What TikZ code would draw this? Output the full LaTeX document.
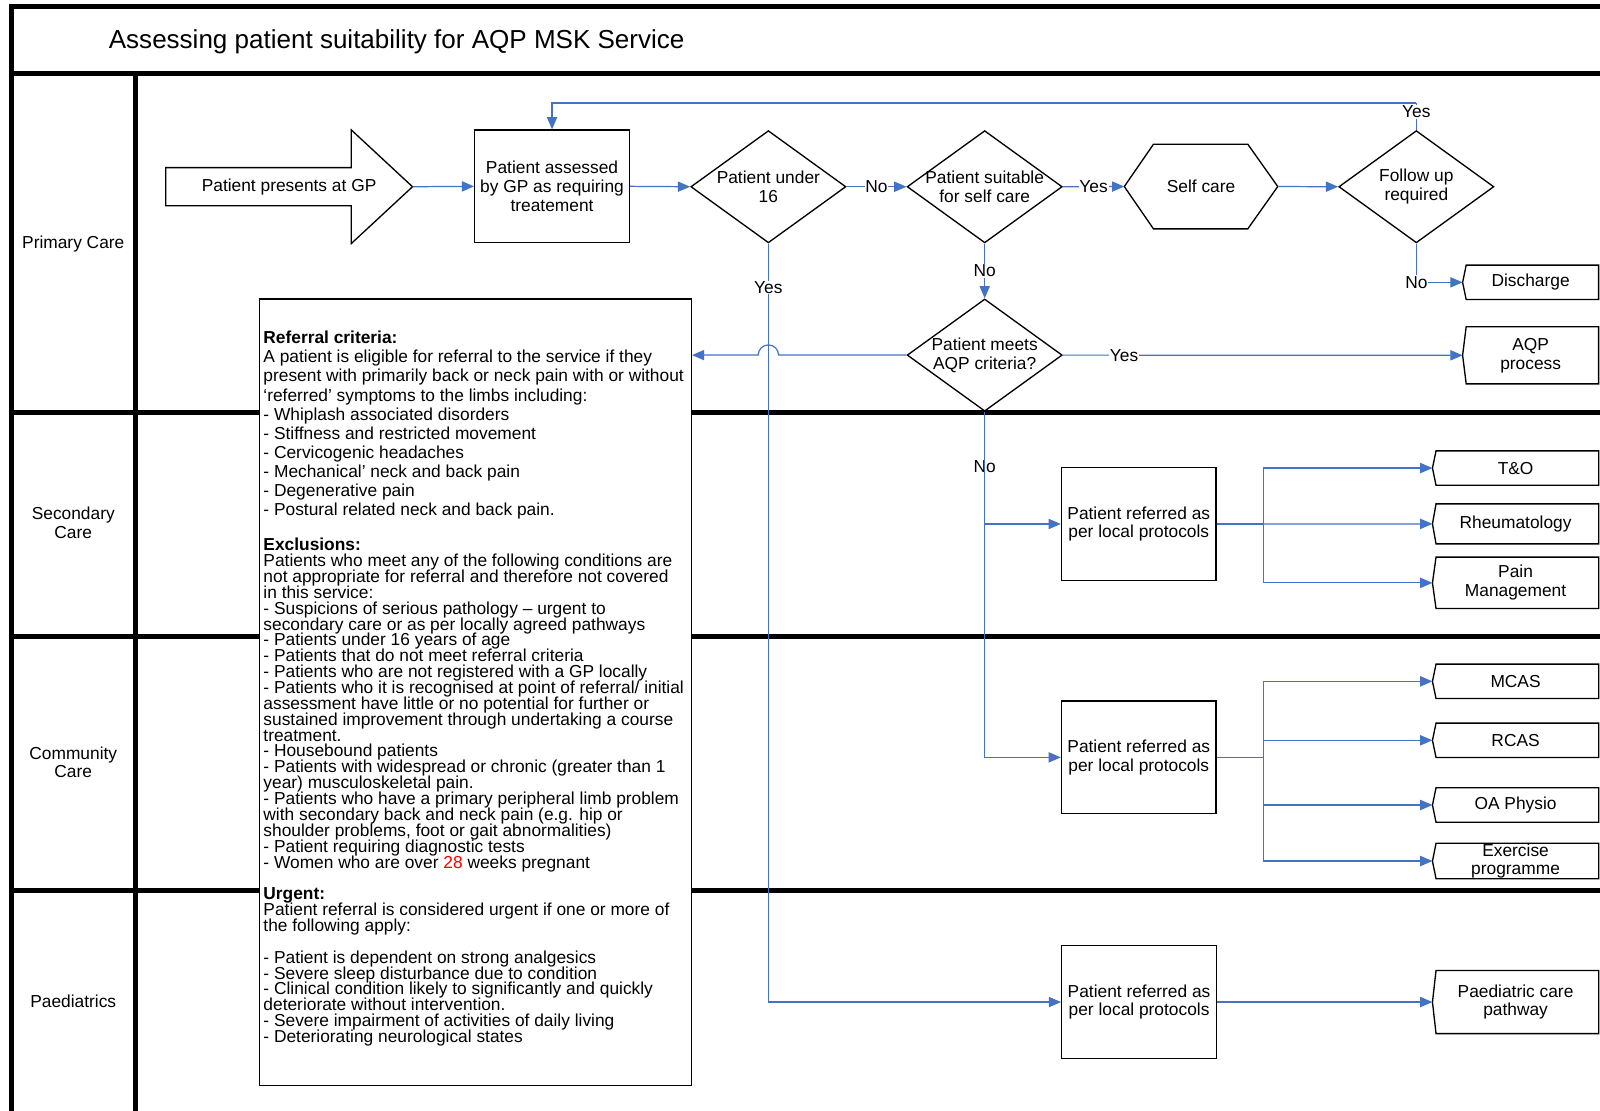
\documentclass[tikz,border=0pt]{standalone}
\usepackage{fontspec}
\setmainfont{Liberation Sans}
\usetikzlibrary{shapes.geometric,arrows.meta,calc}
\definecolor{conblue}{RGB}{68,114,196}
\newcommand{\offpagepath}[1]{\draw[outl] ([xshift=3.5pt]#1.north west) -- (#1.west) -- ([xshift=3.5pt]#1.south west) -- (#1.south east) -- (#1.north east) -- cycle;}
\begin{document}
\begin{tikzpicture}[x=1pt,y=-1pt,
  every node/.style={font=\fontsize{17}{18.5}\selectfont, inner sep=0pt, align=center},
  lane/.style={line width=4.6pt, black},
  shapeline/.style={draw=black, line width=1.3pt, fill=white},
  outl/.style={draw=black, line width=1.3pt},
  box/.style={shapeline, rectangle, minimum width=151.5pt, minimum height=110.4pt},
  dia/.style={shapeline, diamond, aspect=1.38, inner sep=-6pt, minimum width=152pt, minimum height=110pt},
  conn/.style={draw=conblue, line width=1.2pt, -{Triangle[length=12pt,width=10pt]}},
  link/.style={draw=conblue, line width=1.2pt},
  lbl/.style={fill=white, inner sep=0.8pt},
  tgt/.style={rectangle, minimum width=162.5pt},
]
\useasboundingbox (0,0) rectangle (1568,1088);
\clip (0,0) rectangle (1568,1088);

% swimlane frame
\draw[lane] (9.2,6.5) -- (1600,6.5);
\draw[lane] (11.5,4.2) -- (11.5,1100);
\draw[lane] (9.2,72) -- (1600,72);
\draw[lane] (133,72) -- (133,1100);
\draw[lane] (9.2,404) -- (1600,404);
\draw[lane] (9.2,624) -- (1600,624);
\draw[lane] (9.2,872.5) -- (1600,872.5);

\node[anchor=base west, font=\fontsize{25.5}{30}\selectfont] (title) at (106.5,47.4) {Assessing patient suitability for AQP MSK Service};

\node (lp) at (71.8,239) {Primary Care};
\node (ls) at (71.8,512.5) {Secondary\\Care};
\node (lc) at (71.8,747) {Community\\Care};
\node (lpa) at (71.8,981.5) {Paediatrics};

% referral criteria box
\node[shapeline, rectangle, minimum width=423.5pt, minimum height=771pt] (refbox) at (465.75,678.5) {};
\node[anchor=base west] (reftext) at (258,337) {\parbox[t]{440pt}{\raggedright\lineskiplimit=-50pt\lineskip=0pt
\fontsize{17}{18.67}\selectfont
\textbf{Referral criteria:}\\
A patient is eligible for referral to the service if they\\
present with primarily back or neck pain with or without\\
‘referred’ symptoms to the limbs including:\\
- Whiplash associated disorders\\
- Stiffness and restricted movement\\
- Cervicogenic headaches\\
- Mechanical’ neck and back pain\\
- Degenerative pain\\
- Postural related neck and back pain.\par
\vspace{19.1pt}
\fontsize{17}{15.55}\selectfont
\textbf{Exclusions:}\\
Patients who meet any of the following conditions are\\
not appropriate for referral and therefore not covered\\
in this service:\\
- Suspicions of serious pathology – urgent to\\
secondary care or as per locally agreed pathways\\
- Patients under 16 years of age\\
- Patients that do not meet referral criteria\\
- Patients who are not registered with a GP locally\\
- Patients who it is recognised at point of referral/ initial\\
assessment have little or no potential for further or\\
sustained improvement through undertaking a course\\
treatment.\\
- Housebound patients\\
- Patients with widespread or chronic (greater than 1\\
year) musculoskeletal pain.\\
- Patients who have a primary peripheral limb problem\\
with secondary back and neck pain (e.g. hip or\\
shoulder problems, foot or gait abnormalities)\\
- Patient requiring diagnostic tests\\
- Women who are over \textcolor{red}{28} weeks pregnant\\[15.55pt]
\textbf{Urgent:}\\
Patient referral is considered urgent if one or more of\\
the following apply:\\[15.55pt]
- Patient is dependent on strong analgesics\\
- Severe sleep disturbance due to condition\\
- Clinical condition likely to significantly and quickly\\
deteriorate without intervention.\\
- Severe impairment of activities of daily living\\
- Deteriorating neurological states\par}};

% big arrow
\node[minimum width=241.5pt, minimum height=111pt] (gp) at (283.3,183) {Patient presents at GP};
\draw[outl] ([yshift=18.7pt]gp.west) -- ([xshift=-60pt,yshift=18.7pt]gp.east) -- ([xshift=-60pt]gp.north east) -- (gp.east) -- ([xshift=-60pt]gp.south east) -- ([xshift=-60pt,yshift=-18.7pt]gp.east) -- ([yshift=-18.7pt]gp.west) -- cycle;

\node[box] (assess) at (541,182.6) {Patient assessed\\by GP as requiring\\treatement};
\node[dia] (u16) at (753,183) {Patient under\\16};
\node[dia] (suit) at (965,183) {Patient suitable\\for self care};
\node[dia] (fu) at (1388,183) {Follow up\\required};
\node[dia] (aqp) at (965,348) {Patient meets\\AQP criteria?};

\node[minimum width=150pt, minimum height=82.6pt] (self) at (1177,182.8) {Self care};
\draw[outl] (self.west) -- ([xshift=28.6pt]self.north west) -- ([xshift=-29.4pt]self.north east) -- (self.east) -- ([xshift=-29.4pt]self.south east) -- ([xshift=28.6pt]self.south west) -- cycle;

\node[tgt, minimum width=132.9pt, minimum height=33.3pt] (dis) at (1500,276.7) {Discharge};
\node[tgt, minimum width=132.9pt, minimum height=55.5pt] (aqpp) at (1500,348.2) {AQP\\process};
\node[tgt, minimum height=33.3pt] (to) at (1485.25,458.7) {T\&O};
\node[tgt, minimum height=38.8pt] (rh) at (1485.25,513.4) {Rheumatology};
\node[tgt, minimum height=50pt] (pm) at (1485.25,571.2) {Pain\\Management};
\node[tgt, minimum height=33.4pt] (mc) at (1485.25,667.7) {MCAS};
\node[tgt, minimum height=33.3pt] (rc) at (1485.25,725.5) {RCAS};
\node[tgt, minimum height=33.4pt] (oa) at (1485.25,788.9) {OA Physio};
\node[tgt, minimum height=33.4pt] (ex) at (1485.25,843.8) {Exercise\\programme};
\node[tgt, minimum height=61.4pt] (pd) at (1485.25,982) {Paediatric care\\pathway};
\offpagepath{dis}
\offpagepath{aqpp}
\offpagepath{to}
\offpagepath{rh}
\offpagepath{pm}
\offpagepath{mc}
\offpagepath{rc}
\offpagepath{oa}
\offpagepath{ex}
\offpagepath{pd}

\node[box] (r1) at (1116,513.5) {Patient referred as\\per local protocols};
\node[box] (r2) at (1116,742.2) {Patient referred as\\per local protocols};
\node[box] (r3) at (1116.3,982) {Patient referred as\\per local protocols};

% connectors
\coordinate (topy) at (0,101);
\draw[conn] (gp.east) -- (assess.west);
\draw[conn] (assess.east) -- (u16.west);
\draw[conn] (u16.east) -- node[lbl]{No} (suit.west);
\draw[conn] (suit.east) -- node[lbl]{Yes} (self.west);
\draw[conn] (self.east) -- (fu.west);
\draw[link] (fu.north) -- (fu.north |- topy);
\draw[conn] (fu.north |- topy) -| (assess.north);
\node[lbl] (fuyes) at ($(fu.north)+(0,-17.5)$) {Yes};
\draw[conn] (fu.south) |- node[lbl, pos=0.5]{No} (dis.west);
\draw[conn] (suit.south) -- node[lbl]{No} (aqp.north);
\draw[conn] (aqp.east) -- node[lbl, pos=0.153]{Yes} (aqpp.west);
\draw[conn] (aqp.west) -- ($(u16.south |- aqp.west)+(10,0)$) arc[start angle=0, end angle=180, radius=10pt] -- (aqp.west -| refbox.east);
\draw[conn] (u16.south) |- node[lbl, pos=0.029]{Yes} (r3.west);
\draw[conn] (aqp.south) |- node[lbl, pos=0.244]{No} (r1.west);
\draw[conn] (aqp.south) |- (r2.west);

\coordinate (b1) at ($(r1.east)+(46,0)$);
\draw[link] (r1.east) -- (b1);
\draw[conn] (b1) |- (to.west);
\draw[conn] (r1.east) -- (rh.west);
\draw[conn] (b1) |- (pm.west);

\coordinate (b2) at ($(r2.east)+(46,0)$);
\draw[link] (r2.east) -- (b2);
\draw[conn] (b2) |- (mc.west);
\draw[conn] (b2) |- (rc.west);
\draw[conn] (b2) |- (oa.west);
\draw[conn] (b2) |- (ex.west);

\draw[conn] (r3.east) -- (pd.west);
\end{tikzpicture}
\end{document}
